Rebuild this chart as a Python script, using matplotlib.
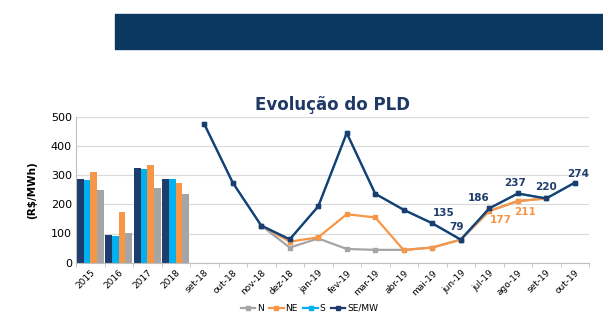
import numpy as np
from matplotlib import pyplot as plt
from matplotlib.patches import Rectangle

# categories
years = ["2015", "2016", "2017", "2018"]
months = ["set-18", "out-18", "nov-18", "dez-18", "jan-19", "fev-19", "mar-19",
          "abr-19", "mai-19", "jun-19", "jul-19", "ago-19", "set-19", "out-19"]

# yearly averages (bars)
bar_se = [288, 94, 323, 286]
bar_s = [282, 93, 320, 286]
bar_ne = [310, 173, 336, 272]
bar_n = [249, 103, 257, 234]

# monthly values (lines)
nan = np.nan
line_se = [475, 274, 127, 80, 193, 444, 236, 181, 135, 79, 186, 237, 220, 274]
line_s = [475, 274, 127, 80, 193, 444, 236, 181, 135, 79, 186, 237, 220, 274]
line_ne = [nan, nan, 127, 72, 87, 166, 155, 43, 52, 79, 177, 211, 220, nan]
line_n = [nan, nan, 127, 52, 83, 47, 44, 44, 52, 79, 177, 211, 220, nan]

# data labels: month index -> (value, dx px, dy px)
se_labels = {8: (135, 11, 10), 9: (79, -4, 13), 10: (186, -11, 10), 11: (237, -3, 10), 12: (220, 0, 11), 13: (274, 3, 9)}
ne_labels = {10: (177, 12, -9), 11: (211, 7, -11)}

c_navy = "#1F3D6C"
c_light = "#00B0F0"
c_orange = "#F79646"
c_gray = "#A5A5A5"

fig = plt.figure(figsize=(6.03, 3.27), dpi=100)
fig.patches.append(Rectangle((115 / 603, 1 - 49 / 327), 488 / 603, 35 / 327,
                             transform=fig.transFigure, color="#0B3861", zorder=0))

ax = fig.add_axes([76 / 603, 1 - 262.7 / 327, 513 / 603, 146 / 327])

labels = years + months
n_cat = len(labels)
xb = np.arange(len(years))
w = 0.235
ax.bar(xb - 1.5 * w, bar_se, w, color=c_navy, zorder=2)
ax.bar(xb - 0.5 * w, bar_s, w, color=c_light, zorder=2)
ax.bar(xb + 0.5 * w, bar_ne, w, color=c_orange, zorder=2)
ax.bar(xb + 1.5 * w, bar_n, w, color=c_gray, zorder=2)

xm = np.arange(len(years), n_cat)
ax.plot(xm, line_n, color=c_gray, marker="s", ms=3, lw=1.6, label="N", zorder=3)
ax.plot(xm, line_ne, color=c_orange, marker="s", ms=3, lw=1.6, label="NE", zorder=3)
ax.plot(xm, line_s, color=c_light, marker="s", ms=3, lw=1.6, label="S", zorder=3)
ax.plot(xm, line_se, color=c_navy, marker="s", ms=3, lw=1.6, label="SE/MW", zorder=4)

for i, (v, dx, dy) in se_labels.items():
    ax.annotate(str(v), (xm[i], v), xytext=(dx, dy), textcoords="offset pixels",
                ha="center", va="center", fontsize=7.5, fontweight="bold", color=c_navy)
for i, (v, dx, dy) in ne_labels.items():
    ax.annotate(str(v), (xm[i], v), xytext=(dx, dy), textcoords="offset pixels",
                ha="center", va="center", fontsize=7.5, fontweight="bold", color=c_orange)

ax.set_xlim(-0.5, n_cat - 0.5)
ax.set_ylim(0, 500)
ax.set_yticks(range(0, 501, 100))
ax.set_xticks(np.arange(n_cat))
ax.set_xticklabels(labels, rotation=45, ha="right", rotation_mode="anchor", fontsize=6.5)
ax.set_xticks(np.arange(n_cat + 1) - 0.5, minor=True)
ax.tick_params(axis="x", which="major", length=0, pad=4)
ax.tick_params(axis="x", which="minor", length=3, color="#BFBFBF")
ax.tick_params(axis="y", length=0, labelsize=8, pad=3)
ax.grid(axis="y", color="#D9D9D9", lw=0.8, zorder=0)
for s in ["top", "right"]:
    ax.spines[s].set_visible(False)
ax.spines["left"].set_color("#BFBFBF")
ax.spines["bottom"].set_color("#BFBFBF")

ax.set_ylabel("(R\\$/MWh)", fontsize=7.5, fontweight="bold", labelpad=10)
ax.set_title("Evolução do PLD", fontsize=12, fontweight="bold", color="#1F3864", pad=5)

ax.legend(loc="upper center", bbox_to_anchor=(0.455, -0.225), ncol=4, frameon=False,
          fontsize=6.5, handlelength=1.6, columnspacing=0.6, handletextpad=0.2)

fig.savefig("out.png", dpi=100)
